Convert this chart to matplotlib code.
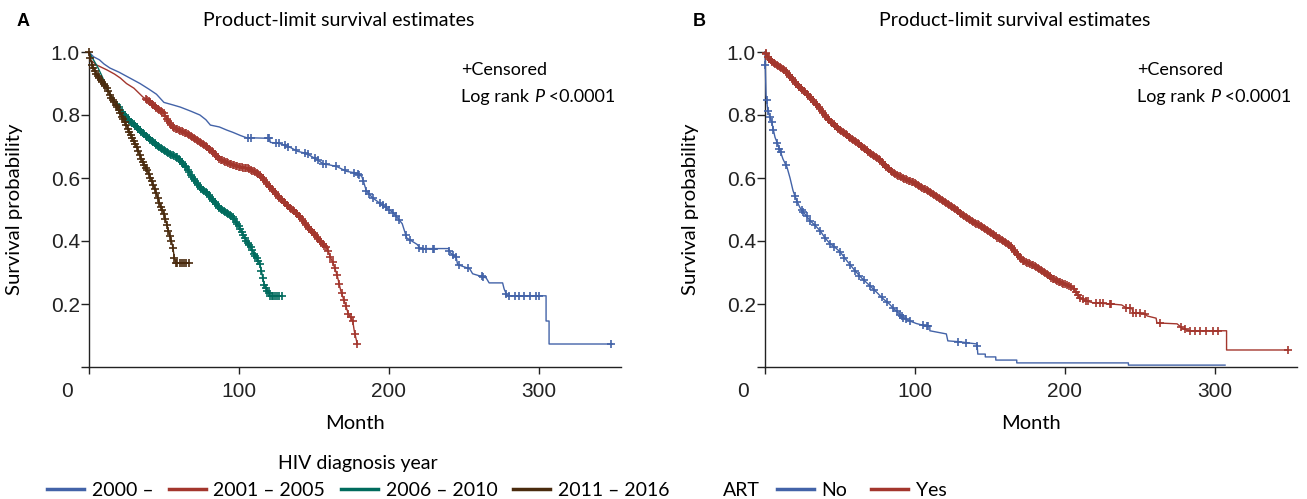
import matplotlib
matplotlib.use("Agg")
import matplotlib.pyplot as plt
import numpy as np
from matplotlib.lines import Line2D
from matplotlib.transforms import ScaledTranslation

# Curve vertices (a repeated month = a vertical drop).
# ---- Panel A: HIV diagnosis year ----
a_groups = ["2000 –", "2001 – 2005", "2006 – 2010", "2011 – 2016"]

t_2000 = [0, 3, 7, 10, 14, 20, 27, 34, 40, 45, 50, 56, 61, 68, 74, 78, 81, 87, 92, 96, 101,
          105, 120.5, 121, 127, 134, 139, 145, 152, 156, 165, 172, 179, 182, 183, 185, 189,
          196, 203, 209, 212, 219, 221, 240, 241, 245, 246, 254, 256, 265, 267, 276, 277, 279,
          305, 305, 307, 307, 349]
s_2000 = [1.0, 0.985, 0.975, 0.962, 0.949, 0.936, 0.918, 0.90, 0.882, 0.866, 0.84, 0.832,
          0.825, 0.812, 0.80, 0.785, 0.768, 0.762, 0.752, 0.745, 0.735, 0.728, 0.726, 0.713,
          0.71, 0.698, 0.685, 0.678, 0.659, 0.646, 0.637, 0.621, 0.615, 0.605, 0.592, 0.56,
          0.538, 0.513, 0.49, 0.455, 0.41, 0.389, 0.376, 0.376, 0.363, 0.348, 0.325, 0.312,
          0.296, 0.283, 0.267, 0.267, 0.248, 0.226, 0.226, 0.146, 0.146, 0.073, 0.073]
c_2000 = [106, 108, 119.5, 120, 125, 127, 130.5, 133, 138, 144, 146, 150.5, 153, 156, 158,
          165, 170.5, 177, 179.5, 180.5, 183, 185, 187, 189.5, 194, 196, 198, 200.5, 203, 205,
          207, 211.5, 214, 220.5, 223, 225, 229.5, 230.5, 240.5, 243, 245, 247, 253, 262, 263,
          278.5, 280.5, 284, 287, 290.5, 294, 298.5, 300.5, 348.5]

t_2001 = [0, 1, 5, 12, 17, 21, 25, 30, 36, 40, 43, 47, 50, 53, 56, 60, 65, 70, 74, 79, 83,
          87, 92, 97, 101, 106, 110, 114, 116, 119, 121, 124, 127, 131, 134, 138, 141, 144,
          147, 151, 154, 157, 159, 161, 163, 165, 166, 168, 171, 173, 176, 177, 179]
s_2001 = [1.0, 0.975, 0.959, 0.943, 0.93, 0.917, 0.90, 0.885, 0.857, 0.845, 0.831, 0.815,
          0.806, 0.78, 0.761, 0.752, 0.742, 0.726, 0.713, 0.697, 0.682, 0.66, 0.65, 0.64,
          0.634, 0.631, 0.621, 0.609, 0.599, 0.58, 0.57, 0.555, 0.538, 0.52, 0.506, 0.49,
          0.475, 0.457, 0.439, 0.42, 0.401, 0.385, 0.376, 0.35, 0.328, 0.30, 0.283, 0.242,
          0.20, 0.169, 0.146, 0.115, 0.073]
c_2001 = [38, 39, 40, 41, 42, 43, 44, 45, 46, 47, 48, 49, 50, 51, 52, 53, 54, 55, 56, 57, 58,
          59, 60, 61, 62, 63, 64, 65, 66, 67, 68, 69, 70, 71, 72, 73, 74, 75, 76, 77, 78, 79,
          80, 81, 82, 83, 84, 85, 86, 87, 88, 89, 90, 91, 92, 93, 94, 95, 96, 97, 98, 99, 100,
          101, 102, 103, 104, 105, 106, 107, 108, 109, 110, 111, 112, 113, 114, 115, 116, 117,
          118, 119, 120, 121, 122, 123, 124, 125, 126, 127, 128, 129, 130, 131, 132, 133, 134,
          135, 136, 137, 138, 139, 140, 141, 142, 143, 144, 145, 146, 147, 148, 149, 150, 151,
          152, 153, 154, 155, 156, 157, 158, 159.5, 161, 162.5, 164, 165.5, 167, 168.5, 170,
          171.5, 173, 174.5, 176, 177.5, 179]

t_2006 = [0, 3, 6, 9, 12, 15, 19, 22, 25, 30, 34, 39, 43, 48, 52, 56, 59, 62, 65, 68, 72, 75,
          79, 83, 87, 92, 96, 99, 101, 103, 105, 108, 110, 112, 114, 116, 117, 119, 121, 129]
s_2006 = [1.0, 0.975, 0.95, 0.92, 0.885, 0.86, 0.831, 0.81, 0.793, 0.77, 0.752, 0.73, 0.713,
          0.696, 0.682, 0.672, 0.666, 0.65, 0.634, 0.61, 0.583, 0.566, 0.551, 0.528, 0.506,
          0.49, 0.475, 0.455, 0.439, 0.42, 0.401, 0.38, 0.36, 0.345, 0.328, 0.283, 0.26,
          0.242, 0.226, 0.226]
c_2006 = [19, 20, 21, 22, 23, 24, 25, 26, 27, 28, 29, 30, 31, 32, 33, 34, 35, 36, 37, 38, 39,
          40, 41, 42, 43, 44, 45, 46, 47, 48, 49, 50, 51, 52, 53, 54, 55, 56, 57, 58, 59, 60,
          61, 62, 63, 64, 65, 66, 67, 68, 69, 70, 71, 72, 73, 74, 75, 76, 77, 78, 79, 80, 81,
          82, 83, 84, 85, 86, 87, 88, 89, 90, 91, 92, 93, 94, 95, 96, 97, 98, 99, 100, 101,
          102, 103, 104, 105, 106, 107, 108, 109, 110, 111, 112, 113, 114, 115, 116, 117, 118,
          119, 120, 121, 122, 123, 124, 125.5, 127, 128.5]

t_2011 = [0, 2, 5, 8, 12, 15, 19, 22, 25, 28, 32, 35, 39, 42, 45, 47, 50, 53, 55, 56, 57, 58, 67]
s_2011 = [1.0, 0.96, 0.93, 0.91, 0.885, 0.855, 0.825, 0.795, 0.768, 0.735, 0.697, 0.66, 0.624,
          0.59, 0.551, 0.52, 0.487, 0.433, 0.40, 0.379, 0.345, 0.331, 0.331]
c_2011 = [0, 1, 2, 3, 4, 5, 6, 7, 8, 9, 10, 11, 12, 13, 14, 15, 16, 17, 18, 19, 20, 21, 22,
          23, 24, 25, 26, 27, 28, 29, 30, 31, 32, 33, 34, 35, 36, 37, 38, 39, 40, 41, 42, 43,
          44, 45, 46, 47, 48, 49, 50, 51, 52, 53, 54, 55, 56, 57, 58, 59, 60.5, 62, 63.5, 65,
          66.5]

# ---- Panel B: ART ----
b_groups = ["No", "Yes"]

t_no = [0, 0.3, 0.7, 1.5, 2, 3.5, 4.7, 5.7, 6.7, 8.3, 10, 12, 14.7, 16.7, 18.7, 21, 23.3, 26.7,
        30, 33.3, 36.7, 40, 43.3, 46.7, 50, 55, 60, 65, 70, 75, 78, 83, 85.3, 89, 92, 96.7,
        101, 106.7, 110, 110, 121, 122, 130, 141.5, 142, 147, 147, 154, 154, 168, 168, 242.5,
        242.5, 307]
s_no = [1.0, 0.936, 0.863, 0.83, 0.815, 0.79, 0.774, 0.75, 0.729, 0.71, 0.688, 0.66, 0.634,
        0.60, 0.56, 0.53, 0.506, 0.485, 0.465, 0.45, 0.433, 0.41, 0.392, 0.38, 0.366, 0.335,
        0.306, 0.28, 0.258, 0.235, 0.22, 0.2, 0.188, 0.172, 0.156, 0.146, 0.138, 0.131, 0.131,
        0.115, 0.105, 0.083, 0.08, 0.073, 0.041, 0.041, 0.032, 0.032, 0.022, 0.022, 0.013,
        0.013, 0.006, 0.006]
c_no = [0.2, 1.1, 2.2, 3.3, 4.4, 5.6, 8.2, 9.6, 10.4, 14, 20, 21.6, 24.4, 25.6, 27.8, 30, 33.3,
        36.7, 40, 43.3, 46, 50, 53, 57, 60, 63, 66, 70, 73, 77.8, 81.1, 85.6, 87.8, 90, 91.1,
        92.2, 94.4, 96.7, 105.6, 107.8, 108.9, 128.9, 134.4, 141.6]

t_yes = [0, 2, 5, 9, 14.7, 19, 23, 28, 32, 37, 41, 46, 50, 55, 59, 64, 68, 72, 77, 81, 85, 92,
         99, 104, 108, 115, 121, 128, 134, 139, 144, 148, 155, 161, 165, 168, 172, 178, 183,
         188, 192, 199, 205, 208, 210, 214, 219, 231, 238, 241, 245, 245.5, 254, 255, 261,
         261.5, 275, 279, 283, 308, 308, 349]
s_yes = [1.0, 0.985, 0.968, 0.955, 0.936, 0.91, 0.889, 0.868, 0.847, 0.82, 0.793, 0.77, 0.752,
         0.735, 0.72, 0.703, 0.688, 0.672, 0.656, 0.636, 0.618, 0.60, 0.586, 0.572, 0.561,
         0.54, 0.52, 0.498, 0.475, 0.459, 0.448, 0.436, 0.411, 0.395, 0.379, 0.36, 0.338,
         0.325, 0.312, 0.295, 0.28, 0.265, 0.252, 0.235, 0.22, 0.21, 0.204, 0.2, 0.197, 0.188,
         0.185, 0.172, 0.168, 0.162, 0.155, 0.14, 0.137, 0.121, 0.115, 0.115, 0.054, 0.054]
c_yes = [0.5, 1, 2, 3, 4, 5, 6, 7, 8, 9, 10, 11, 12, 13, 14, 15, 16, 17, 18, 19, 20, 21, 22,
         23, 24, 25, 26, 27, 28, 29, 30, 31, 32, 33, 34, 35, 36, 37, 38, 39, 40, 41, 42, 43,
         44, 45, 46, 47, 48, 49, 50, 51, 52, 53, 54, 55, 56, 57, 58, 59, 60, 61, 62, 63, 64,
         65, 66, 67, 68, 69, 70, 71, 72, 73, 74, 75, 76, 77, 78, 79, 80, 81, 82, 83, 84, 85,
         86, 87, 88, 89, 90, 91, 92, 93, 94, 95, 96, 97, 98, 99, 100, 101, 102, 103, 104, 105,
         106, 107, 108, 109, 110, 111, 112, 113, 114, 115, 116, 117, 118, 119, 120, 121, 122,
         123, 124, 125, 126, 127, 128, 129, 130, 131, 132, 133, 134, 135, 136, 137, 138, 139,
         140, 141, 142, 143, 144, 145, 146, 147, 148, 149, 150, 151, 152, 153, 154, 155, 156,
         157, 158, 159, 160, 161, 162, 163, 164, 165, 166, 167, 168, 169, 170, 171, 172, 173,
         174, 175, 176, 177, 178, 179, 180, 181, 182, 183, 184, 185, 186, 187, 188, 189, 190,
         191, 192, 193, 194, 195, 196, 197, 198, 199, 200, 201.5, 203, 204.5, 206, 207.5, 209,
         210.5, 212.2, 214.4, 215.6, 221.1, 223.3, 225.6, 230, 231.1, 241.1, 243.3, 245.6,
         247.8, 250, 253.3, 263.3, 277.8, 280, 283.3, 286.7, 290, 294.4, 298.9, 302.2, 348.9]

BLUE = "#4363a8"
RED = "#a3362d"
GREEN = "#006b5d"
BROWN = "#4a2b0e"

TXT = "Lato"
NUM = "Liberation Sans"

W, H = 1307, 499
fig = plt.figure(figsize=(W / 100, H / 100), dpi=100)


def km(ax, t, s, cens, color):
    ax.plot(t, s, color=color, lw=1.0, clip_on=False, zorder=3)
    # censor marks sit on the drawn curve
    ax.plot(cens, np.interp(cens, t, s), ls="none", marker="+", ms=6, mew=1.2,
            color=color, clip_on=False, zorder=3)


def setup(ax, x0, letter):
    ax.set_xlim(0, 355)
    ax.set_ylim(0, 1.0)
    for side in ("top", "right"):
        ax.spines[side].set_visible(False)
    for side in ("left", "bottom"):
        ax.spines[side].set_linewidth(1.0)
        ax.spines[side].set_color("#222222")
    ax.set_xticks([0, 100, 200, 300])
    ax.set_xticklabels(["0", "100", "200", "300"], fontfamily=NUM, fontsize=15)
    ax.set_yticks([0, 0.2, 0.4, 0.6, 0.8, 1.0])
    ax.set_yticklabels(["", "0.2", "0.4", "0.6", "0.8", "1.0"], fontfamily=NUM, fontsize=15)
    ax.tick_params(axis="x", length=5, width=1.0, pad=6, colors="#222222")
    ax.tick_params(axis="y", length=5.5, width=1.0, pad=1, colors="#222222")
    lbl = ax.get_xticklabels()[0]
    lbl.set_transform(lbl.get_transform() + ScaledTranslation(-0.22, 0, fig.dpi_scale_trans))
    ax.set_xlabel("Month", fontfamily=TXT, fontsize=14.5, labelpad=10)

    fig.text((x0 - 74) / W, 1 - 209 / H, "Survival probability", rotation=90,
             ha="center", va="center", fontfamily=TXT, fontsize=14.7)
    fig.text((x0 - 72) / W, 1 - 21 / H, letter, ha="left", va="center",
             fontfamily=NUM, fontweight="bold", fontsize=13)
    fig.text((x0 + 250) / W, 1 - 21 / H, "Product-limit survival estimates",
             ha="center", va="center", fontfamily=TXT, fontsize=14.1)

    ax.text(372 / 532, (367 - 70) / 315, "+Censored", transform=ax.transAxes,
            ha="left", va="center", fontfamily=TXT, fontsize=13)
    t2 = ax.text(372 / 532, (367 - 97) / 315, "Log rank ", transform=ax.transAxes,
                 ha="left", va="center", fontfamily=TXT, fontsize=13)
    t3 = ax.annotate("P", xy=(1, 0), xycoords=t2, ha="left", va="bottom",
                     fontfamily=TXT, fontsize=13, fontstyle="italic")
    ax.annotate(" <0.0001", xy=(1, 0), xycoords=t3, ha="left", va="bottom",
                fontfamily=TXT, fontsize=13)


axA = fig.add_axes([89 / W, 1 - 367 / H, 532 / W, 315 / H])
setup(axA, 89, "A")
km(axA, t_2000, s_2000, c_2000, BLUE)
km(axA, t_2001, s_2001, c_2001, RED)
km(axA, t_2006, s_2006, c_2006, GREEN)
km(axA, t_2011, s_2011, c_2011, BROWN)

axB = fig.add_axes([765 / W, 1 - 367 / H, 532 / W, 315 / H])
setup(axB, 765, "B")
km(axB, t_no, s_no, c_no, BLUE)
km(axB, t_yes, s_yes, c_yes, RED)

a_handles = [Line2D([], [], color=c, lw=2.5) for c in (BLUE, RED, GREEN, BROWN)]
leg = fig.legend(a_handles, a_groups, title="HIV diagnosis year", loc="center",
                 bbox_to_anchor=(358 / W, 1 - 477 / H), ncol=4, frameon=False,
                 handlelength=1.9, handletextpad=0.4, columnspacing=0.8,
                 prop={"family": TXT, "size": 14}, borderpad=0, borderaxespad=0)
leg.get_title().set_fontfamily(TXT)
leg.get_title().set_fontsize(14)

fig.text(723 / W, 1 - 490 / H, "ART", ha="left", va="center", fontfamily=TXT, fontsize=14)
b_handles = [Line2D([], [], color=c, lw=2.5) for c in (BLUE, RED)]
fig.legend(b_handles, b_groups, loc="center left", bbox_to_anchor=(777 / W, 1 - 490 / H),
           ncol=2, frameon=False, handlelength=1.9, handletextpad=0.4, columnspacing=1.2,
           prop={"family": TXT, "size": 14}, borderpad=0, borderaxespad=0)

fig.savefig("out.png", dpi=100)
